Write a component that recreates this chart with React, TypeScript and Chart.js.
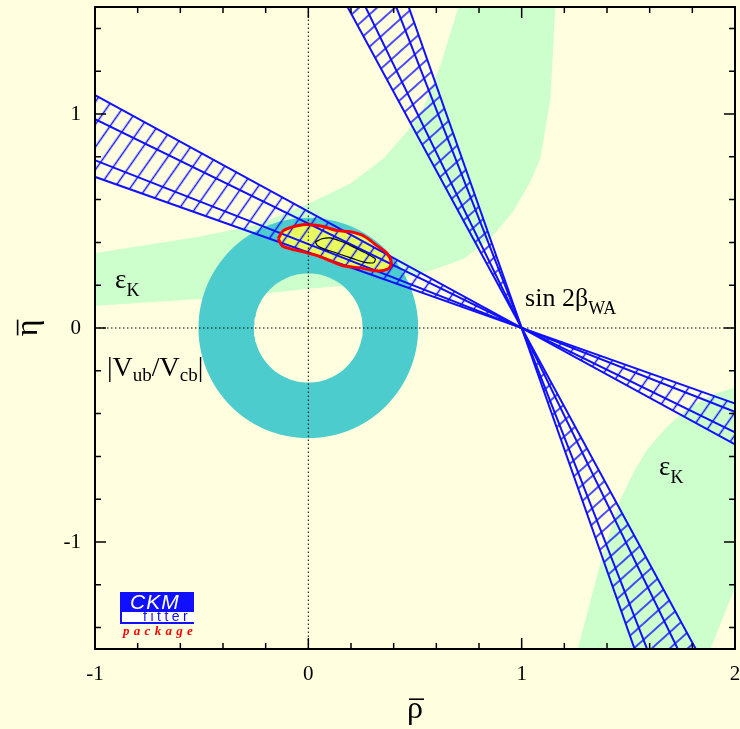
import React, { useEffect, useRef } from 'react';
import { Chart, registerables } from 'chart.js';

Chart.register(...registerables);

// ---------------- data ----------------
const xTickLabels = [-1, 0, 1, 2];
const yTickLabels = [-1, 0, 1];

// tan(beta) at the boundaries of the sin2beta band (2σ, 1σ, 1σ, 2σ)
const tanBetaBounds = [0.353, 0.392, 0.488, 0.544];
const betaApex = [1, 0];

// |Vub/Vcb| annulus
const vubCenter = [0, 0];
const vubRadii = [0.255, 0.515];

// epsilon_K band, upper-left branch (closed polygon)
const epsKUpperBand: [number, number][] = [
  [-1.05, 0.343], [-0.506, 0.427], [-0.239, 0.483], [0, 0.581], [0.197, 0.675],
  [0.352, 0.792], [0.464, 0.919], [0.539, 1.027], [0.619, 1.228], [0.703, 1.496],
  [0.72, 1.58], [1.165, 1.58], [1.158, 1.5], [1.135, 1.074], [1.088, 0.792],
  [1.041, 0.684], [0.961, 0.544], [0.853, 0.417], [0.727, 0.323], [0.572, 0.267],
  [0.431, 0.23], [0.2, 0.2], [0, 0.183], [-0.25, 0.155], [-0.506, 0.136], [-1.05, 0.101],
];

// epsilon_K band, lower-right branch (closed polygon)
const epsKLowerBand: [number, number][] = [
  [1.252, -1.58], [1.261, -1.505], [1.336, -1.224], [1.383, -1.05], [1.463, -0.802],
  [1.524, -0.675], [1.589, -0.567], [1.683, -0.459], [1.791, -0.366], [1.899, -0.309],
  [2.0, -0.277], [2.06, -0.262], [2.06, -1.19], [2.0, -1.214], [1.885, -1.5], [1.85, -1.58],
];

// global fit contours
const cl95Contour: [number, number][] = [
  [-0.141, 0.417], [-0.117, 0.455], [-0.052, 0.478], [0.009, 0.483], [0.07, 0.474],
  [0.136, 0.455], [0.197, 0.45], [0.258, 0.431], [0.323, 0.384], [0.37, 0.347],
  [0.389, 0.305], [0.375, 0.277], [0.323, 0.267], [0.244, 0.281], [0.164, 0.291],
  [0.103, 0.314], [0.042, 0.338], [-0.023, 0.356], [-0.084, 0.37], [-0.122, 0.384],
];
const cl68Contour: [number, number][] = [
  [0.033, 0.402], [0.064, 0.417], [0.103, 0.421], [0.142, 0.409], [0.181, 0.394],
  [0.228, 0.37], [0.275, 0.347], [0.314, 0.323], [0.306, 0.305], [0.259, 0.308],
  [0.212, 0.323], [0.165, 0.339], [0.119, 0.355], [0.072, 0.37], [0.041, 0.386],
];

// ---------------- styles ----------------
const BG = '#ffffe0';
const GREEN = '#ccffcc';
const CYAN = '#4ccccc';
const YELLOW = '#e9fc5d';
const BLUE = '#1010ff';
const RED = '#ff0000';
const SERIF = '"Liberation Serif", "Times New Roman", serif';
const SANS = '"Liberation Sans", Arial, sans-serif';
const TITLE_SIZE = 32;
const X_TITLE_PAD_BOTTOM = 0;
const Y_TITLE_PAD_TOP = 9;

const labelPos = {
  epsK1: [-0.906, 0.187],
  epsK2: [1.644, -0.687],
  sin2b: [1.016, 0.103],
  vub: [-0.944, -0.224],
  logo: [-0.881, -1.234],
};

const pts = (arr: number[][]) => arr.map(([x, y]) => ({ x, y }));
const closed = (arr: number[][]) => [...arr, arr[0]];
const NONE = 'rgba(0,0,0,0)';

export default function App() {
  const ref = useRef<HTMLCanvasElement>(null);

  useEffect(() => {
    const canvas = ref.current!;
    const mainCtx = canvas.getContext('2d')!;

    const mkHatch = (spacing: number, rot: number) => {
      const t = document.createElement('canvas');
      t.width = spacing;
      t.height = spacing;
      const c = t.getContext('2d')!;
      c.strokeStyle = BLUE;
      c.lineWidth = 1.5;
      c.beginPath();
      c.moveTo(spacing / 2, -1);
      c.lineTo(spacing / 2, spacing + 1);
      c.stroke();
      const p = mainCtx.createPattern(t, 'repeat')!;
      p.setTransform(new DOMMatrix().rotateSelf(rot));
      return p;
    };
    const hatchShallow = mkHatch(13, 35);
    const hatchSteep = mkHatch(12, 48);

    const [ax, ay] = betaApex;
    const sMin = Math.min(...tanBetaBounds);
    const sMax = Math.max(...tanBetaBounds);
    const X0 = -1.1, X1 = 2.1, Y0 = -1.6, Y1 = 1.6;
    // shallow lines: eta = s (ax - rho)
    const shallowLine = (s: number) => [
      [X0, ay + s * (ax - X0)],
      [X1, ay + s * (ax - X1)],
    ];
    // steep lines: rho = ax - s (eta - ay)
    const steepLine = (s: number) => [
      [ax - s * (Y1 - ay), Y1],
      [ax - s * (Y0 - ay), Y0],
    ];
    const shallowWedge = [
      shallowLine(sMax)[0], shallowLine(sMax)[1], shallowLine(sMin)[1], shallowLine(sMin)[0],
    ];
    const steepWedge = [
      steepLine(sMax)[0], steepLine(sMax)[1], steepLine(sMin)[1], steepLine(sMin)[0],
    ];

    // annulus path: outer circle one way, inner circle the other way
    const ring: number[][] = [];
    const [cx0, cy0] = vubCenter;
    const [rIn, rOut] = vubRadii;
    for (let a = 0; a <= 360; a += 3) {
      const t = (a * Math.PI) / 180;
      ring.push([cx0 + rOut * Math.cos(t), cy0 + rOut * Math.sin(t)]);
    }
    for (let a = 360; a >= 0; a -= 3) {
      const t = (a * Math.PI) / 180;
      ring.push([cx0 + rIn * Math.cos(t), cy0 + rIn * Math.sin(t)]);
    }

    const base = {
      pointRadius: 0,
      pointHoverRadius: 0,
      tension: 0,
      borderWidth: 1,
      borderColor: NONE,
      fill: false as any,
    };

    const datasets: any[] = [
      { ...base, data: pts(epsKUpperBand), fill: 'shape', backgroundColor: GREEN, order: 20 },
      { ...base, data: pts(epsKLowerBand), fill: 'shape', backgroundColor: GREEN, order: 20 },
      { ...base, data: pts(ring), fill: 'shape', backgroundColor: CYAN, order: 19 },
      { ...base, data: pts(closed(cl95Contour)), fill: 'shape', backgroundColor: YELLOW, tension: 0.3, order: 18 },
      { ...base, data: pts(shallowWedge), fill: 'shape', backgroundColor: hatchShallow, order: 17 },
      { ...base, data: pts(steepWedge), fill: 'shape', backgroundColor: hatchSteep, order: 17 },
      ...tanBetaBounds.map((s) => ({
        ...base, data: pts(shallowLine(s)), borderColor: BLUE, borderWidth: 2, order: 10,
      })),
      ...tanBetaBounds.map((s) => ({
        ...base, data: pts(steepLine(s)), borderColor: BLUE, borderWidth: 2, order: 10,
      })),
      { ...base, data: pts(closed(cl95Contour)), borderColor: RED, borderWidth: 3, tension: 0.3, order: 5 },
      { ...base, data: pts(closed(cl68Contour)), borderColor: '#000', borderWidth: 1.2, tension: 0.2, order: 4 },
      { ...base, data: pts([[-1, 0], [2, 0]]), borderColor: '#000', borderWidth: 1, borderDash: [1.5, 2.5], order: 2 },
      { ...base, data: pts([[0, -1.5], [0, 1.5]]), borderColor: '#000', borderWidth: 1, borderDash: [1.5, 2.5], order: 2 },
    ];

    const bgPlugin = {
      id: 'bg',
      beforeDraw(chart: any) {
        const { ctx } = chart;
        ctx.save();
        ctx.fillStyle = BG;
        ctx.fillRect(0, 0, chart.width, chart.height);
        ctx.restore();
      },
    };

    const labelsPlugin = {
      id: 'labels',
      afterDatasetsDraw(chart: any) {
        const { ctx, scales } = chart;
        const xs = scales.x, ys = scales.y;
        ctx.save();
        ctx.fillStyle = '#000';
        ctx.textBaseline = 'alphabetic';
        ctx.textAlign = 'left';
        const rich = (p: number[], parts: [string, boolean][], main: number, sub: number, dy: number) => {
          let px = xs.getPixelForValue(p[0]);
          const py = ys.getPixelForValue(p[1]);
          for (const [t, isSub] of parts) {
            ctx.font = `${isSub ? sub : main}px ${SERIF}`;
            ctx.fillText(t, px, isSub ? py + dy : py);
            px += ctx.measureText(t).width;
          }
        };
        rich(labelPos.epsK1, [['ε', false], ['K', true]], 27, 18, 8);
        rich(labelPos.epsK2, [['ε', false], ['K', true]], 27, 18, 8);
        rich(labelPos.sin2b, [['sin 2β', false], ['WA', true]], 26, 18, 8);
        rich(labelPos.vub, [['|V', false], ['ub', true], ['/V', false], ['cb', true], ['|', false]], 28, 19, 5);

        // logo
        const lx = Math.round(xs.getPixelForValue(labelPos.logo[0]));
        const ly = Math.round(ys.getPixelForValue(labelPos.logo[1]));
        ctx.fillStyle = BLUE;
        ctx.fillRect(lx, ly, 74, 20);
        ctx.fillStyle = '#ffffff';
        ctx.fillRect(lx, ly + 20, 74, 12);
        ctx.fillStyle = BLUE;
        ctx.fillRect(lx, ly + 20, 2, 12);
        ctx.fillRect(lx, ly + 30, 74, 2);
        ctx.fillStyle = '#ffffff';
        ctx.font = `italic 21px ${SANS}`;
        (ctx as any).letterSpacing = '1px';
        ctx.fillText('CKM', lx + 10, ly + 17);
        ctx.fillStyle = BLUE;
        ctx.font = `14px ${SANS}`;
        (ctx as any).letterSpacing = '3.5px';
        ctx.fillText('fitter', lx + 23, ly + 29);
        ctx.fillStyle = RED;
        ctx.font = `italic bold 13px ${SERIF}`;
        (ctx as any).letterSpacing = '4.3px';
        ctx.fillText('package', lx + 3, ly + 43);
        (ctx as any).letterSpacing = '0px';
        ctx.restore();
      },
      afterDraw(chart: any) {
        const { ctx, chartArea: a, scales } = chart;
        const xs = scales.x, ys = scales.y;
        ctx.save();
        ctx.strokeStyle = '#000';
        ctx.lineWidth = 2;
        ctx.strokeRect(a.left, a.top, a.right - a.left, a.bottom - a.top);
        ctx.lineWidth = 1.5;
        ctx.beginPath();
        for (let i = 0; i <= 15; i++) {
          const v = -1 + i * 0.2;
          const len = i % 5 === 0 ? 11 : 6;
          const px = xs.getPixelForValue(v);
          ctx.moveTo(px, a.bottom);
          ctx.lineTo(px, a.bottom - len);
          ctx.moveTo(px, a.top);
          ctx.lineTo(px, a.top + len);
        }
        for (let i = -7; i <= 7; i++) {
          const v = i * 0.2;
          const len = i % 5 === 0 ? 11 : 6;
          const py = ys.getPixelForValue(v);
          ctx.moveTo(a.left, py);
          ctx.lineTo(a.left + len, py);
          ctx.moveTo(a.right, py);
          ctx.lineTo(a.right - len, py);
        }
        ctx.stroke();

        // overbars on the axis-title symbols (rho-bar, eta-bar)
        const lh = TITLE_SIZE * 1.2;
        ctx.font = `${TITLE_SIZE}px ${SERIF}`;
        ctx.textBaseline = 'middle';
        ctx.lineWidth = 1.6;
        const mr = ctx.measureText('ρ');
        const xTitleX = (xs.left + xs.right) / 2;
        const xTitleY = xs.bottom - lh / 2 - X_TITLE_PAD_BOTTOM;
        const barY = xTitleY - mr.actualBoundingBoxAscent - 4;
        ctx.beginPath();
        ctx.moveTo(xTitleX - mr.width / 2 + 2, barY);
        ctx.lineTo(xTitleX + mr.width / 2 + 1, barY);
        ctx.stroke();
        const me = ctx.measureText('η');
        const yTitleX = ys.left + lh / 2 + Y_TITLE_PAD_TOP;
        const yTitleY = (ys.top + ys.bottom) / 2;
        const barX = yTitleX - me.actualBoundingBoxAscent - 4;
        ctx.beginPath();
        ctx.moveTo(barX, yTitleY + me.width / 2 - 1);
        ctx.lineTo(barX, yTitleY - me.width / 2);
        ctx.stroke();
        ctx.restore();
      },
    };

    const zeroPad = (s: any) => {
      s.paddingLeft = 0;
      s.paddingRight = 0;
      s.paddingTop = 0;
      s.paddingBottom = 0;
    };

    const chart = new Chart(canvas, {
      type: 'line',
      data: { datasets },
      options: {
        animation: false,
        responsive: false,
        devicePixelRatio: 1,
        events: [],
        layout: { padding: { top: 7, right: 5, left: 0, bottom: 0 } },
        plugins: { legend: { display: false }, tooltip: { enabled: false } },
        scales: {
          x: {
            type: 'linear',
            min: -1,
            max: 2,
            afterBuildTicks: (s: any) => {
              s.ticks = xTickLabels.map((v) => ({ value: v }));
            },
            afterFit: (s: any) => {
              s.height = 80;
              zeroPad(s);
            },
            grid: { display: false, drawTicks: false },
            border: { display: false },
            ticks: {
              color: '#000',
              font: { family: SERIF, size: 21 },
              padding: 13,
              maxRotation: 0,
              autoSkip: false,
              callback: (v: any) => String(v),
            },
            title: {
              display: true,
              text: 'ρ',
              color: '#000',
              font: { family: SERIF, size: TITLE_SIZE },
              padding: { top: 0, bottom: X_TITLE_PAD_BOTTOM },
            },
          },
          y: {
            type: 'linear',
            min: -1.5,
            max: 1.5,
            afterBuildTicks: (s: any) => {
              s.ticks = yTickLabels.map((v) => ({ value: v }));
            },
            afterFit: (s: any) => {
              s.width = 95;
              zeroPad(s);
            },
            grid: { display: false, drawTicks: false },
            border: { display: false },
            ticks: {
              color: '#000',
              font: { family: SERIF, size: 21 },
              padding: 14,
              autoSkip: false,
              callback: (v: any) => String(v),
            },
            title: {
              display: true,
              text: 'η',
              color: '#000',
              font: { family: SERIF, size: TITLE_SIZE },
              padding: { top: Y_TITLE_PAD_TOP, bottom: 0 },
            },
          },
        },
      } as any,
      plugins: [bgPlugin, labelsPlugin],
    });
    return () => chart.destroy();
  }, []);

  return (
    <div style={{ position: 'fixed', left: 0, top: 0, width: 740, height: 729, background: BG }}>
      <canvas ref={ref} width={740} height={729} style={{ display: 'block' }} />
    </div>
  );
}
